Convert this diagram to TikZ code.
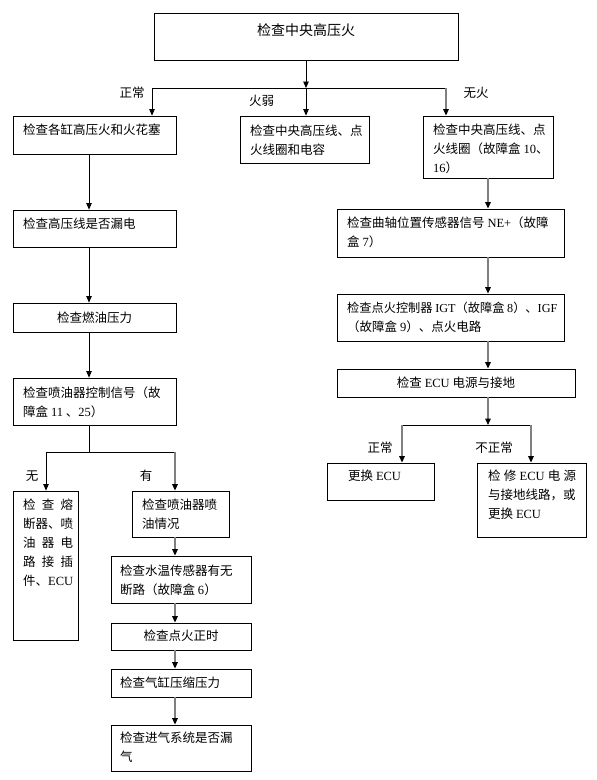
\documentclass[tikz,border=0pt]{standalone}
\usepackage{fontspec}
\setmainfont{Noto Sans CJK SC}
\newfontfamily\latfont{Liberation Serif}
\usetikzlibrary{arrows.meta}
\newcommand\mylat[1]{{\latfont #1}}
\begin{document}
\begin{tikzpicture}[x=1pt,y=-1pt,
  box/.style={draw=black, line width=0.8pt, inner sep=0pt, fill=white},
  txt/.style={inner sep=0pt, font=\fontsize{12.5}{19}\selectfont, align=left, anchor=west},
  ctxt/.style={inner sep=0pt, font=\fontsize{12.5}{19}\selectfont, align=center, anchor=center},
  lbl/.style={inner sep=0pt, font=\fontsize{12.5}{19}\selectfont, anchor=center},
  ln/.style={draw=black, line width=0.8pt},
  gl/.style={draw=black!50, line width=1.4pt},
  arr/.style={-{Triangle[width=5.5pt,length=6.5pt,color=black]}}
]
\fill[white] (0,0) rectangle (597,780);
\useasboundingbox (0,0) rectangle (597,780);

% boxes
\node[box, minimum width=304pt, minimum height=47pt] (t)  at (306,36.5) {};
\node[box, minimum width=163pt, minimum height=38pt] (l1) at (94.5,135) {};
\node[box, minimum width=129pt, minimum height=47pt] (m1) at (304.5,139.5) {};
\node[box, minimum width=130pt, minimum height=62pt] (r1) at (488,147) {};
\node[box, minimum width=163pt, minimum height=37pt] (l2) at (94.5,228.5) {};
\node[box, minimum width=163pt, minimum height=29pt] (l3) at (94.5,317.5) {};
\node[box, minimum width=163pt, minimum height=47pt] (l4) at (94.5,401.5) {};
\node[box, minimum width=227pt, minimum height=48pt] (r2) at (450.5,233) {};
\node[box, minimum width=227pt, minimum height=47pt] (r3) at (450.5,317.5) {};
\node[box, minimum width=238pt, minimum height=28pt] (r4) at (456,383) {};
\node[box, minimum width=107pt, minimum height=37pt] (e1) at (380.5,481.5) {};
\node[box, minimum width=109pt, minimum height=74pt] (e2) at (531.5,500) {};
\node[box, minimum width=65pt, minimum height=149pt] (f)  at (45.5,565.5) {};
\node[box, minimum width=97pt, minimum height=46pt] (i1) at (180.5,514) {};
\node[box, minimum width=140pt, minimum height=47pt] (i2) at (181,579.5) {};
\node[box, minimum width=140pt, minimum height=27pt] (i3) at (181,636.5) {};
\node[box, minimum width=140pt, minimum height=28pt] (i4) at (181,683) {};
\node[box, minimum width=140pt, minimum height=46pt] (i5) at (181,748) {};

% texts
\node[ctxt, font=\fontsize{14}{19}\selectfont] (tt) at (306,30) {检查中央高压火};
\node[txt] (l1t) at (23,130) {检查各缸高压火和火花塞};
\node[txt] (m1t) at (250,140) {检查中央高压线、点\\火线圈和电容};
\node[txt] (r1t) at (433,149) {检查中央高压线、点\\火线圈（故障盒 \mylat{10}、\\\mylat{16}）};
\node[txt] (l2t) at (23,224) {检查高压线是否漏电};
\node[ctxt] (l3t) at (94.5,318) {检查燃油压力};
\node[txt] (l4t) at (23,402.5) {检查喷油器控制信号（故\\障盒 \mylat{11} 、\mylat{25}）};
\node[txt] (r2t) at (347,232.5) {检查曲轴位置传感器信号 \mylat{NE+}（故障\\盒 \mylat{7}）};
\node[txt] (r3t) at (347,317.5) {{\fontsize{12.2}{19}\selectfont 检查点火控制器 \mylat{IGT}（故障盒 \mylat{8}）、\mylat{IGF}}\\（故障盒 \mylat{9}）、点火电路};
\node[ctxt] (r4t) at (456,383) {检查 \mylat{ECU} 电源与接地};
\node[txt] (e1t) at (348,476) {更换 \mylat{ECU}};
\node[txt] (e2t) at (488,495) {\hbox to 88pt{检\hfil 修\hfil \mylat{ECU}\hfil 电\hfil 源}\\与接地线路，或\\更换 \mylat{ECU}};
\node[txt] (ft) at (23,543) {\hbox to 50pt{检\hfil 查\hfil 熔}\\断器、喷\\\hbox to 50pt{油\hfil 器\hfil 电}\\\hbox to 50pt{路\hfil 接\hfil 插}\\件、\mylat{ECU}};
\node[txt] (i1t) at (142,514.5) {检查喷油器喷\\油情况};
\node[txt] (i2t) at (120,580.5) {检查水温传感器有无\\断路（故障盒 \mylat{6}）};
\node[ctxt] (i3t) at (181,636) {检查点火正时};
\node[txt] (i4t) at (120,683) {检查气缸压缩压力};
\node[txt] (i5t) at (120,747.5) {检查进气系统是否漏\\气};

% branch labels
\node[lbl] (b1) at (132,93) {正常};
\node[lbl] (b2) at (261.5,101) {火弱};
\node[lbl] (b3) at (476,93) {无火};
\node[lbl] (b4) at (32,476) {无};
\node[lbl] (b5) at (146,476) {有};
\node[lbl] (b6) at (380,448) {正常};
\node[lbl] (b7) at (494,448) {不正常};

% junction coordinates
\coordinate (j1) at (306,88);
\coordinate (jL) at (152,88);
\coordinate (jR) at (446,88);
\coordinate (lx) at (89,0);
\coordinate (rx) at (488,0);
\coordinate (k1) at (89,452);
\coordinate (kL) at (46,452);
\coordinate (kR) at (175,452);
\coordinate (s1) at (488,425);
\coordinate (sL) at (402,425);
\coordinate (sR) at (531,425);

% connectors: top split
\draw[ln,arr] (t) -- (j1);
\draw[ln] (jL) -- (jR);
\draw[ln,arr] (jL) -- (jL |- l1.north);
\draw[ln,arr] (j1) -- (j1 |- m1.north);
\draw[gl,arr] (jR) -- (jR |- r1.north);

% left column
\draw[ln,arr] (l1.south -| lx) -- (l2.north -| lx);
\draw[ln,arr] (l2.south -| lx) -- (l3.north -| lx);
\draw[ln,arr] (l3.south -| lx) -- (l4.north -| lx);
\draw[ln] (l4.south -| lx) -- (k1);
\draw[ln] (kL) -- (kR);
\draw[ln,arr] (kL) -- (kL |- f.north);
\draw[gl,arr] (kR) -- (kR |- i1.north);
\draw[gl,arr] (i1.south -| kR) -- (i2.north -| kR);
\draw[gl,arr] (i2.south -| kR) -- (i3.north -| kR);
\draw[gl,arr] (i3.south -| kR) -- (i4.north -| kR);
\draw[gl,arr] (i4.south -| kR) -- (i5.north -| kR);

% right column
\draw[gl,arr] (r1.south -| rx) -- (r2.north -| rx);
\draw[gl,arr] (r2.south -| rx) -- (r3.north -| rx);
\draw[gl,arr] (r3.south -| rx) -- (r4.north -| rx);
\draw[gl,arr] (r4.south -| rx) -- (s1);
\draw[ln] (sL) -- (sR);
\draw[gl,arr] (sL) -- (sL |- e1.north);
\draw[gl,arr] (sR) -- (sR |- e2.north);
\end{tikzpicture}
\end{document}
